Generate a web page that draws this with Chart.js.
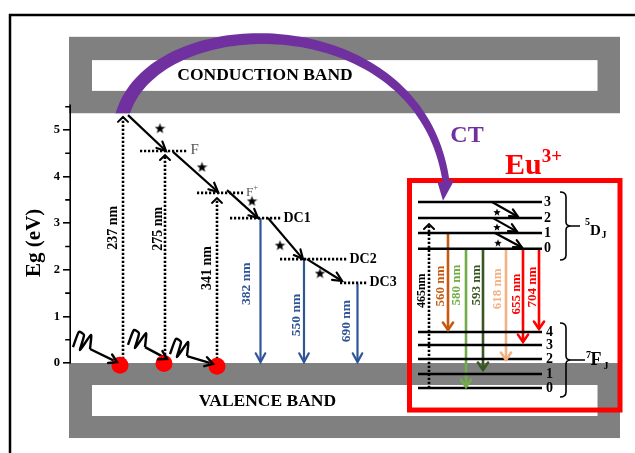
<!DOCTYPE html>
<html>
<head>
<meta charset="utf-8">
<script src="https://cdn.jsdelivr.net/npm/chart.js@4/dist/chart.umd.min.js"></script>
<style>
html,body{margin:0;padding:0;background:#fff}
canvas{display:block}
</style>
</head>
<body>
<canvas id="c" width="635" height="453"></canvas>
<script>
// ---- energy axis (eV) ----
const energyTicks = [0, 1, 2, 3, 4, 5];
const energyMinorTicks = [0.5, 1.5, 2.5, 3.5, 4.5, 5.5];

// ---- host bands (eV) ----
const conductionBand = [5.36, 7.0];
const valenceBand = [-1.61, 0];

// ---- band-to-defect excitation ----
const excitationLabels = ['237 nm', '275 nm', '341 nm'];
const excitationX = [5.2, 9.4, 14.6];
const excitationTop = [5.28, 4.46, 3.54];

// ---- electrons at the valence band edge ----
const electronX = [4.9, 9.3, 14.6];
const electronE = [-0.05, -0.01, -0.07];

// ---- defect levels ----
const levelNames = ['F', 'F+', 'DC1', 'DC2', 'DC3'];
const levelE = [4.55, 3.65, 3.11, 2.23, 1.72];
const levelStart = [6.9, 12.6, 15.9, 20.9, 26.9];
const levelEnd = [11.6, 17.2, 21.1, 27.7, 29.7];

// ---- non-radiative relaxation cascade ----
const cascadeFrom = [[5.7, 5.32], [10.2, 4.53], [15.6, 3.71], [19.7, 3.11], [23.6, 2.23]];
const cascadeTo = [[9.5, 4.55], [14.7, 3.67], [18.7, 3.11], [23.2, 2.23], [27.1, 1.76]];
const cascadeStars = [[8.9, 5.04], [13.1, 4.21], [18.1, 3.48], [20.9, 2.53], [24.9, 1.93]];

// ---- defect emissions ----
const emissionLabels = ['382 nm', '550 nm', '690 nm'];
const emissionX = [18.95, 23.3, 28.65];
const emissionFrom = [3.11, 2.23, 1.70];
const emissionTo = [0.02, 0.02, 0.02];

// ---- incoming photons (wavy part, then straight run to the electron) ----
const photonWaves = [
  [[0.2, 0.34], [0.8, 0.67], [1.3, 0.60], [0.9, 0.28], [2.0, 0.60], [1.9, 0.30]],
  [[5.7, 0.39], [6.3, 0.71], [6.8, 0.64], [6.4, 0.32], [7.5, 0.64], [7.4, 0.34]],
  [[9.9, 0.19], [10.5, 0.52], [11.0, 0.45], [10.6, 0.13], [11.7, 0.45], [11.6, 0.15]]
];
const photonTips = [[4.6, 0.02], [9.6, 0.09], [14.2, -0.02]];

// ---- Eu3+ levels ----
const euDLabels = ['3', '2', '1', '0'];
const euDE = [3.455, 3.11, 2.79, 2.45];
const euFLabels = ['4', '3', '2', '1', '0'];
const euFE = [0.665, 0.386, 0.086, -0.236, -0.536];
const euLevelSpan = [34.7, 47.1];

// ---- Eu3+ excitation ----
const euExciteLabel = '465nm';
const euExciteX = 35.8;
const euExciteE = [-0.536, 2.98];

// ---- Eu3+ emissions ----
const euEmitLabels = ['560 nm', '580 nm', '593 nm', '618 nm', '655 nm', '704 nm'];
const euEmitX = [37.7, 39.5, 41.2, 43.5, 45.2, 46.8];
const euEmitFrom = [2.79, 2.45, 2.45, 2.45, 2.45, 2.45];
const euEmitTo = [0.71, -0.515, -0.15, 0.064, 0.45, 0.73];
const euEmitColors = ['#c55a11', '#70ad47', '#385723', '#f4b183', '#ff0000', '#ff0000'];

// ---- Eu3+ 5D relaxation ----
const euRelaxFrom = [[42.1, 3.455], [42.2, 3.11], [42.4, 2.79]];
const euRelaxTo = [[44.7, 3.14], [44.6, 2.82], [45.1, 2.48]];
const euRelaxStars = [[42.6, 3.24], [42.6, 2.92], [42.7, 2.58]];

// ---------------------------------------------------------------
const SERIF = '"Liberation Serif", "Times New Roman", serif';
const BLUE = '#2f5597';
const PURPLE = '#7030a0';

function makeStar(size) {
  const c = document.createElement('canvas');
  c.width = c.height = size;
  const g = c.getContext('2d');
  g.fillStyle = '#000';
  g.beginPath();
  for (let i = 0; i < 10; i++) {
    const r = i % 2 ? size * 0.21 : size * 0.5;
    const a = -Math.PI / 2 + i * Math.PI / 5;
    g.lineTo(size / 2 + r * Math.cos(a), size / 2 + size * 0.05 + r * Math.sin(a));
  }
  g.closePath();
  g.fill();
  return c;
}
const bigStar = makeStar(11);
const smallStar = makeStar(8);

const xy = pts => pts.map(p => ({x: p[0], y: p[1]}));
const seg = (pts, color, extra) => Object.assign({
  type: 'line', data: xy(pts), borderColor: color, borderWidth: 2.3,
  pointRadius: 0, pointHoverRadius: 0, fill: false, tension: 0, clip: false
}, extra || {});

const DOTS = [2.2, 1.8];
const datasets = [];

// electrons
datasets.push({
  type: 'scatter', data: xy(electronX.map((x, i) => [x, electronE[i]])),
  pointRadius: 8.5, pointHoverRadius: 8.5, backgroundColor: '#ff0000', borderWidth: 0, clip: false
});
// stars
datasets.push({
  type: 'scatter', data: xy(cascadeStars), pointStyle: bigStar, pointRadius: 5, clip: false
});
datasets.push({
  type: 'scatter', data: xy(euRelaxStars), pointStyle: smallStar, pointRadius: 4, clip: false
});
// excitation (dotted) with open heads
excitationX.forEach((x, i) => datasets.push(
  seg([[x, 0], [x, excitationTop[i]]], '#000', {borderDash: DOTS, borderWidth: 2.6, arrow: {size: 7, spread: 0.8, width: 2}})
));
// defect levels
levelE.forEach((e, i) => datasets.push(
  seg([[levelStart[i], e], [levelEnd[i], e]], '#000', {borderDash: DOTS, borderWidth: 2.6})
));
// relaxation cascade
cascadeFrom.forEach((p, i) => datasets.push(
  seg([p, cascadeTo[i]], '#000', {borderWidth: 2.2, arrow: {size: 10, spread: 0.45}})
));
// defect emissions
emissionX.forEach((x, i) => datasets.push(
  seg([[x, emissionFrom[i]], [x, emissionTo[i]]], BLUE, {borderWidth: 2.2, arrow: {size: 10, spread: 0.5}})
));
// photons
photonWaves.forEach((w, i) => {
  datasets.push(seg(w, '#000', {tension: 0.2, borderWidth: 2.4}));
  datasets.push(seg([w[w.length - 1], photonTips[i]], '#000', {borderWidth: 2.4, arrow: {size: 9, spread: 0.55}}));
});
// Eu levels
euDE.concat(euFE).forEach(e => datasets.push(seg([[euLevelSpan[0], e], [euLevelSpan[1], e]], '#000', {borderWidth: 2.5})));
// Eu excitation
datasets.push(seg([[euExciteX, euExciteE[0]], [euExciteX, euExciteE[1]]], '#000',
  {borderDash: DOTS, borderWidth: 2.6, arrow: {size: 7, spread: 0.8, width: 2}}));
// Eu emissions
euEmitX.forEach((x, i) => datasets.push(
  seg([[x, euEmitFrom[i]], [x, euEmitTo[i]]], euEmitColors[i], {borderWidth: 2.6, arrow: {size: 9, spread: 0.6}})
));
// Eu 5D relaxation
euRelaxFrom.forEach((p, i) => datasets.push(
  seg([p, euRelaxTo[i]], '#000', {borderWidth: 2.2, arrow: {size: 9, spread: 0.45}})
));

// ---------------------------------------------------------------
function head(ctx, x0, y0, x1, y1, size, spread, color, lw) {
  const a = Math.atan2(y1 - y0, x1 - x0);
  ctx.save();
  ctx.setLineDash([]);
  ctx.strokeStyle = color;
  ctx.lineWidth = lw;
  ctx.lineCap = 'round';
  ctx.lineJoin = 'miter';
  ctx.beginPath();
  ctx.moveTo(x1 - size * Math.cos(a - spread), y1 - size * Math.sin(a - spread));
  ctx.lineTo(x1, y1);
  ctx.lineTo(x1 - size * Math.cos(a + spread), y1 - size * Math.sin(a + spread));
  ctx.stroke();
  ctx.restore();
}

function text(ctx, s, x, y, font, color, align, rot) {
  ctx.save();
  ctx.translate(x, y);
  if (rot) ctx.rotate(rot);
  ctx.font = font;
  ctx.fillStyle = color;
  ctx.textAlign = align || 'center';
  ctx.textBaseline = 'middle';
  ctx.fillText(s, 0, 0);
  ctx.restore();
}

const diagram = {
  id: 'diagram',
  beforeDraw(chart) {
    const ctx = chart.ctx, X = v => chart.scales.x.getPixelForValue(v), Y = v => chart.scales.y.getPixelForValue(v);
    ctx.save();
    ctx.fillStyle = '#fff';
    ctx.fillRect(0, 0, chart.width, chart.height);
    // outer frame
    ctx.strokeStyle = '#000';
    ctx.lineWidth = 2.5;
    ctx.strokeRect(10, 15, chart.width + 20, chart.height + 20);
    // bands
    const bx0 = X(-0.2), bx1 = X(54.9), ix0 = X(2.1), ix1 = X(52.65);
    const band = (lo, hi, inLo, inHi) => {
      ctx.fillStyle = '#808080';
      ctx.fillRect(bx0, Y(hi), bx1 - bx0, Y(lo) - Y(hi));
      ctx.fillStyle = '#fff';
      ctx.fillRect(ix0, Y(inHi), ix1 - ix0, Y(inLo) - Y(inHi));
    };
    band(conductionBand[0], conductionBand[1], 5.84, 6.50);
    band(valenceBand[0], valenceBand[1], -1.137, -0.472);
    text(ctx, 'CONDUCTION BAND', X(19.4), Y(6.16), 'bold 17.5px ' + SERIF, '#000');
    text(ctx, 'VALENCE BAND', X(19.65), Y(-0.815), 'bold 17.5px ' + SERIF, '#000');
    ctx.restore();
  },
  afterDatasetsDraw(chart) {
    const ctx = chart.ctx, X = v => chart.scales.x.getPixelForValue(v), Y = v => chart.scales.y.getPixelForValue(v);
    // arrow heads at line ends
    chart.data.datasets.forEach((ds, i) => {
      if (!ds.arrow) return;
      const pts = chart.getDatasetMeta(i).data;
      const a = pts[pts.length - 2], b = pts[pts.length - 1];
      head(ctx, a.x, a.y, b.x, b.y, ds.arrow.size, ds.arrow.spread, ds.borderColor, ds.arrow.width || ds.borderWidth);
    });

    ctx.save();
    // energy axis line and minor ticks
    const ax = chart.chartArea.left - 0.8;
    ctx.strokeStyle = '#000';
    ctx.lineWidth = 1.6;
    ctx.beginPath();
    ctx.moveTo(ax, Y(0));
    ctx.lineTo(ax, Y(5.55));
    energyMinorTicks.forEach(v => { ctx.moveTo(ax, Y(v)); ctx.lineTo(ax - 5, Y(v)); });
    ctx.stroke();
    text(ctx, 'Eg (eV)', 35, Y(2.58), 'bold 21px ' + SERIF, '#000', 'center', -Math.PI / 2);

    // rotated wavelength labels
    const rot = -Math.PI / 2;
    const exPos = [[4.2, 2.90], [8.7, 2.88], [13.6, 2.04]];
    excitationLabels.forEach((s, i) => text(ctx, s, X(exPos[i][0]), Y(exPos[i][1]), 'bold 14px ' + SERIF, '#000', 'center', rot));
    const emPos = [[17.6, 1.70], [22.6, 1.03], [27.6, 0.90]];
    emissionLabels.forEach((s, i) => text(ctx, s, X(emPos[i][0]), Y(emPos[i][1]), 'bold 13.5px ' + SERIF, BLUE, 'center', rot));
    const euPos = [[37.0, 1.65], [38.6, 1.67], [40.6, 1.67], [42.65, 1.59], [44.6, 1.48], [46.2, 1.63]];
    euEmitLabels.forEach((s, i) => text(ctx, s, X(euPos[i][0]), Y(euPos[i][1]), 'bold 13px ' + SERIF, euEmitColors[i], 'center', rot));
    text(ctx, euExciteLabel, X(35.1), Y(1.55), 'bold 12px ' + SERIF, '#000', 'center', rot);

    // defect level names
    text(ctx, 'F', X(11.95), Y(4.57), '15px ' + SERIF, '#555', 'left');
    text(ctx, 'F', X(17.5), Y(3.66), '13px ' + SERIF, '#555', 'left');
    text(ctx, '+', X(18.25), Y(3.76), '8px ' + SERIF, '#555', 'left');
    levelNames.slice(2).forEach((s, i) => {
      const k = i + 2;
      text(ctx, s, X(levelEnd[k] + 0.15), Y(levelE[k]), 'bold 14px ' + SERIF, '#000', 'left');
    });

    // Eu level numbers
    euDLabels.forEach((s, i) => text(ctx, s, X(47.3), Y(euDE[i]), 'bold 14px ' + SERIF, '#000', 'left'));
    euFLabels.forEach((s, i) => text(ctx, s, X(47.5), Y(euFE[i]), 'bold 14px ' + SERIF, '#000', 'left'));

    // braces
    const brace = (top, bot, tipLen) => {
      const x0 = X(48.9), sx = X(49.5), yt = Y(top), yb = Y(bot), ym = (yt + yb) / 2;
      ctx.beginPath();
      ctx.moveTo(x0, yt);
      ctx.quadraticCurveTo(sx, yt, sx, yt + 5);
      ctx.lineTo(sx, ym - 4);
      ctx.quadraticCurveTo(sx, ym, sx + 5, ym);
      ctx.quadraticCurveTo(sx, ym, sx, ym + 4);
      ctx.lineTo(sx, yb - 5);
      ctx.quadraticCurveTo(sx, yb, x0, yb);
      ctx.moveTo(sx + 5, ym);
      ctx.lineTo(sx + tipLen, ym);
      ctx.stroke();
      return ym;
    };
    ctx.strokeStyle = '#000';
    ctx.lineWidth = 1.6;
    const ymD = brace(3.67, 2.21, 14);
    const ymF = brace(0.86, -0.73, 19);
    // term symbols
    ctx.fillStyle = '#000';
    ctx.textBaseline = 'alphabetic';
    ctx.textAlign = 'left';
    ctx.font = 'bold 10px ' + SERIF; ctx.fillText('5', X(51.4), ymD - 1);
    ctx.font = 'bold 15px ' + SERIF; ctx.fillText('D', X(51.9), ymD + 9);
    ctx.font = 'bold 10px ' + SERIF; ctx.fillText('J', X(53.05), ymD + 12);
    ctx.font = 'bold 10px ' + SERIF; ctx.fillText('7', X(51.5), ymF - 2);
    ctx.font = 'bold 18px ' + SERIF; ctx.fillText('F', X(51.95), ymF + 5);
    ctx.font = 'bold 10px ' + SERIF; ctx.fillText('J', X(53.25), ymF + 9);

    // Eu3+ box
    ctx.strokeStyle = '#ff0000';
    ctx.lineWidth = 5;
    const rx0 = X(33.85), rx1 = X(54.9), ry0 = Y(3.916), ry1 = Y(-1.009);
    ctx.strokeRect(rx0, ry0, rx1 - rx0, ry1 - ry0);

    // Eu3+ heading and CT label
    ctx.fillStyle = '#ff0000';
    ctx.font = 'bold 30px ' + SERIF;
    ctx.fillText('Eu', X(43.4), Y(4.06));
    const euW = ctx.measureText('Eu').width;
    ctx.font = 'bold 19px ' + SERIF;
    ctx.fillText('3+', X(43.4) + euW, Y(4.06) - 12);
    text(ctx, 'CT', X(39.6), Y(4.87), 'bold 24px ' + SERIF, PURPLE, 'center');

    // charge-transfer arc (tapered) from the host conduction band to Eu3+
    const P = [[5.0, 5.21], [7.4, 7.68], [34.9, 7.79], [37.5, 3.90]].map(p => [X(p[0]), Y(p[1])]);
    const tip = [X(37.2), Y(3.48)];
    const w0 = 14, w1 = 7, N = 90;
    const L = [], R = [];
    let tx = 0, ty = 1;
    for (let i = 0; i <= N; i++) {
      const t = i / N, m = 1 - t;
      const x = m*m*m*P[0][0] + 3*m*m*t*P[1][0] + 3*m*t*t*P[2][0] + t*t*t*P[3][0];
      const y = m*m*m*P[0][1] + 3*m*m*t*P[1][1] + 3*m*t*t*P[2][1] + t*t*t*P[3][1];
      const dx = 3*m*m*(P[1][0]-P[0][0]) + 6*m*t*(P[2][0]-P[1][0]) + 3*t*t*(P[3][0]-P[2][0]);
      const dy = 3*m*m*(P[1][1]-P[0][1]) + 6*m*t*(P[2][1]-P[1][1]) + 3*t*t*(P[3][1]-P[2][1]);
      const len = Math.hypot(dx, dy);
      const nx = -dy / len, ny = dx / len;
      const w = (w0 + (w1 - w0) * t) / 2;
      L.push([x + nx * w, y + ny * w]);
      R.push([x - nx * w, y - ny * w]);
      tx = dx / len; ty = dy / len;
    }
    ctx.save();
    ctx.beginPath();
    const cb = Y(conductionBand[0]);
    ctx.rect(0, 0, chart.width, cb);
    ctx.rect(X(15), cb, chart.width, chart.height);
    ctx.clip();
    ctx.fillStyle = PURPLE;
    ctx.beginPath();
    L.forEach((p, i) => i ? ctx.lineTo(p[0], p[1]) : ctx.moveTo(p[0], p[1]));
    R.reverse().forEach(p => ctx.lineTo(p[0], p[1]));
    ctx.closePath();
    ctx.fill();
    // arrow head
    const hb = 8.5, e3 = P[3];
    ctx.beginPath();
    ctx.moveTo(e3[0] - ty * hb, e3[1] + tx * hb);
    ctx.lineTo(e3[0] + ty * hb, e3[1] - tx * hb);
    ctx.lineTo(tip[0], tip[1]);
    ctx.closePath();
    ctx.fill();
    ctx.restore();

    ctx.restore();
  }
};

new Chart(document.getElementById('c'), {
  type: 'line',
  data: {datasets},
  options: {
    responsive: false,
    animation: false,
    devicePixelRatio: 1,
    events: [],
    layout: {padding: 0, autoPadding: false},
    plugins: {legend: {display: false}, tooltip: {enabled: false}, title: {display: false}},
    scales: {
      x: {type: 'linear', min: 0, max: 56.4, display: false},
      y: {
        type: 'linear', min: -1.931, max: 7.79, position: 'left',
        afterBuildTicks: s => { s.ticks = energyTicks.map(v => ({value: v})); },
        afterFit: s => { s.width = 71; s.paddingTop = 0; s.paddingBottom = 0; },
        border: {display: false},
        grid: {drawOnChartArea: false, drawTicks: true, tickLength: 8, color: '#000', lineWidth: 1.6},
        ticks: {color: '#000', padding: 3, font: {family: SERIF, size: 12.5, weight: 'bold'}, callback: v => String(v)}
      }
    }
  },
  plugins: [diagram]
});
</script>
</body>
</html>
